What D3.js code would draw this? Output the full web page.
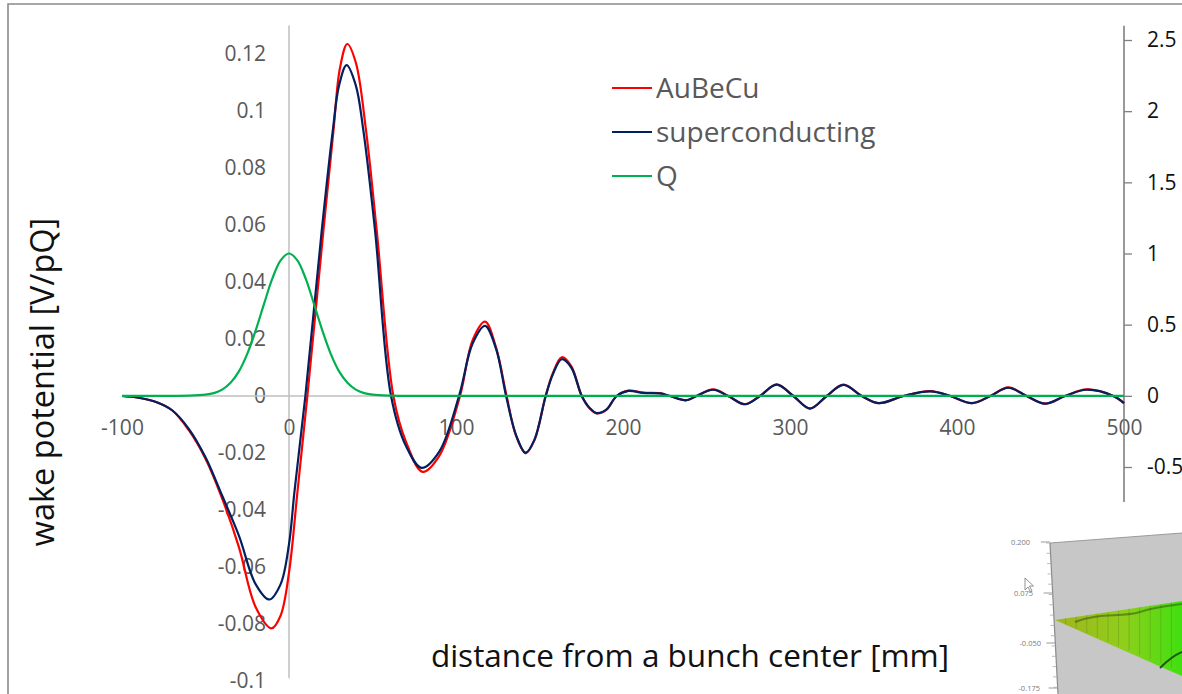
<!DOCTYPE html>
<html><head><meta charset="utf-8">
<script src="https://cdn.jsdelivr.net/npm/d3@7"></script>
<style>body{margin:0;background:#fff;} svg{display:block;font-family:"Open Sans",sans-serif;}</style>
</head><body><svg id="c" width="1182" height="694"></svg>
<script>
// ---- data ----
const xTicks = [-100, 0, 100, 200, 300, 400, 500];
const leftTicks = [-0.1, -0.08, -0.06, -0.04, -0.02, 0, 0.02, 0.04, 0.06, 0.08, 0.1, 0.12];
const rightTicks = [-0.5, 0, 0.5, 1, 1.5, 2, 2.5];
const seriesNames = ["AuBeCu", "superconducting", "Q"];
const seriesColors = ["#ff0000", "#002060", "#00b050"];

const aubecu = [[-100,0],[-90,-0.0006],[-80,-0.002],[-70,-0.005],[-60,-0.012],[-50,-0.022],[-40,-0.036],[-30,-0.053],[-20,-0.074],[-10.4,-0.0815],[-5,-0.077],[0,-0.062],[5,-0.034],[11,0],[20.6,0.058],[26.6,0.093],[30.5,0.115],[34.9,0.1235],[40,0.117],[46.1,0.0933],[52.5,0.0582],[62.5,0],[70,-0.016],[80,-0.0266],[90,-0.021],[102.4,0],[110,0.0197],[117.4,0.0261],[124,0.017],[130.3,0],[136,-0.014],[141.7,-0.0201],[147,-0.0155],[153.7,0],[158,0.008],[163.3,0.0136],[169,0.0105],[175.3,0],[180,-0.0043],[184.2,-0.0061],[190,-0.0049],[196.2,0],[203.2,0.0019],[212,0.0012],[222,0.001],[228,0],[238,-0.0015],[244,0],[254,0.0023],[263,0],[273,-0.0029],[282,0],[292,0.0041],[302,0],[312,-0.0044],[322,0],[332,0.004],[343,0],[353,-0.0025],[368,0],[384,0.0017],[396,0],[409,-0.0025],[420,0],[430.7,0.003],[441.7,0],[452.7,-0.0027],[464.7,0],[477.6,0.0023],[493.6,0],[500,-0.0025]];

const superconducting = [[-100,0],[-90,-0.0006],[-80,-0.002],[-70,-0.005],[-60,-0.0115],[-50,-0.0215],[-40,-0.035],[-30,-0.049],[-20,-0.066],[-11.8,-0.0714],[-5,-0.066],[0,-0.052],[3.2,-0.034],[9.8,0],[19.6,0.058],[26.2,0.093],[30,0.109],[34.5,0.1161],[40,0.109],[44.5,0.0933],[51.5,0.0582],[61.1,0],[70,-0.0175],[79.4,-0.0252],[90,-0.0195],[101.8,0],[110,0.0185],[117.4,0.0246],[124,0.0165],[130,0],[136,-0.0138],[141.7,-0.0199],[147,-0.0153],[153.7,0],[158,0.0076],[163.3,0.0129],[169,0.01],[175.3,0],[180,-0.0042],[184.2,-0.006],[190,-0.0048],[196.2,0],[203.2,0.0018],[212,0.0011],[222,0.0009],[228,0],[238,-0.0015],[244,0],[254,0.0022],[263,0],[273,-0.0029],[282,0],[292,0.004],[302,0],[312,-0.0044],[322,0],[332,0.0039],[343,0],[353,-0.0025],[368,0],[384,0.0016],[396,0],[409,-0.0025],[420,0],[430.7,0.0029],[441.7,0],[452.7,-0.0027],[464.7,0],[477.6,0.0022],[493.6,0],[500,-0.0025]];

const charge = [[-100,0],[-70,0],[-60,0.001],[-50,0.008],[-45,0.019],[-40,0.044],[-35,0.092],[-30,0.172],[-25,0.295],[-20,0.458],[-15,0.644],[-10,0.823],[-5,0.952],[0,1],[5,0.952],[10,0.823],[15,0.644],[20,0.458],[25,0.295],[30,0.172],[35,0.092],[40,0.044],[45,0.019],[50,0.008],[60,0.001],[70,0],[500,0]];

const insetTicks = ["0.200", "0.075", "-0.050", "-0.175"];

// ---- drawing ----
const svg = d3.select("#c");
const x = d3.scaleLinear().domain([-100, 500]).range([122, 1124]);
const yL = d3.scaleLinear().domain([-0.1, 0.12]).range([681, 54]);
const yR = d3.scaleLinear().domain([-0.5, 2.5]).range([467, 40]);

// outer frame
svg.append("path").attr("d", "M8,694V4H1182").attr("fill", "none").attr("stroke", "#8a8a8a").attr("stroke-width", 1.6);

// left value axis (crosses at x=0)
const gL = svg.append("g").attr("transform", `translate(${x(0)},0)`)
  .call(d3.axisLeft(yL).tickValues(leftTicks).tickSize(0).tickPadding(23).tickFormat(d => String(d)));
gL.select(".domain").remove();
gL.selectAll("text").attr("fill", "#595959").attr("font-size", 21).attr("font-family", "Open Sans");
svg.append("line").attr("x1", x(0)).attr("x2", x(0)).attr("y1", yL(0.13)).attr("y2", yL(-0.099))
  .attr("stroke", "#bfbfbf").attr("stroke-width", 1.5);

// x axis (at y=0)
const gX = svg.append("g").attr("transform", `translate(0,${yL(0)})`)
  .call(d3.axisBottom(x).tickValues(xTicks).tickSize(0).tickPadding(24).tickFormat(d => String(d)));
gX.select(".domain").remove();
gX.selectAll("text").attr("fill", "#595959").attr("font-size", 21).attr("font-family", "Open Sans");
svg.append("line").attr("x1", x(-100)).attr("x2", x(500)).attr("y1", yL(0)).attr("y2", yL(0))
  .attr("stroke", "#bfbfbf").attr("stroke-width", 1.5);

// right axis
const gR = svg.append("g").attr("transform", `translate(${x(500)},0)`)
  .call(d3.axisRight(yR).tickValues(rightTicks).tickSize(8).tickPadding(15).tickFormat(d => String(d)));
gR.select(".domain").remove();
gR.selectAll("line").attr("stroke", "#808080").attr("stroke-width", 1.3);
gR.selectAll("text").attr("fill", "#111").attr("font-size", 21).attr("font-family", "Open Sans");
svg.append("line").attr("x1", x(500)).attr("x2", x(500)).attr("y1", yR(2.6)).attr("y2", yR(-2))
  .attr("stroke", "#808080").attr("stroke-width", 1.6);

// series
const lineL = d3.line().x(d => x(d[0])).y(d => yL(d[1])).curve(d3.curveCatmullRom.alpha(0.5));
const lineR = d3.line().x(d => x(d[0])).y(d => yR(d[1])).curve(d3.curveCatmullRom.alpha(0.5));
svg.append("path").attr("d", lineL(aubecu)).attr("fill", "none").attr("stroke", seriesColors[0]).attr("stroke-width", 2.2);
svg.append("path").attr("d", lineL(superconducting)).attr("fill", "none").attr("stroke", seriesColors[1]).attr("stroke-width", 2.2);
svg.append("path").attr("d", lineR(charge)).attr("fill", "none").attr("stroke", seriesColors[2]).attr("stroke-width", 2.2);

// legend
const lg = svg.append("g");
seriesNames.forEach((n, i) => {
  const yy = 88 + i * 44;
  lg.append("line").attr("x1", 612).attr("x2", 652).attr("y1", yy).attr("y2", yy).attr("stroke", seriesColors[i]).attr("stroke-width", 2);
  lg.append("text").attr("x", 656).attr("y", yy).attr("dy", "0.36em").attr("fill", "#595959")
    .attr("font-size", 28).attr("font-family", "Open Sans").text(n);
});

// axis titles
svg.append("text").attr("transform", "translate(54,382) rotate(-90)").attr("text-anchor", "middle")
  .attr("font-size", 32.5).attr("fill", "#111").text("wake potential [V/pQ]");
svg.append("text").attr("x", 690).attr("y", 667).attr("text-anchor", "middle")
  .attr("font-size", 31.5).attr("fill", "#111").text("distance from a bunch center [mm]");

// ---- inset screenshot (bottom right) ----
const ins = svg.append("g");
ins.append("rect").attr("x", 985).attr("y", 502).attr("width", 197).attr("height", 192).attr("fill", "#fff");
const defs = svg.append("defs");
const gr = defs.append("linearGradient").attr("id", "surf").attr("x1", "0").attr("x2", "1").attr("y1", "0").attr("y2", "0");
gr.append("stop").attr("offset", "0").attr("stop-color", "#9fb51e");
gr.append("stop").attr("offset", "0.55").attr("stop-color", "#8fcf1c");
gr.append("stop").attr("offset", "1").attr("stop-color", "#3fe010");
ins.append("polygon").attr("points", "1050,543 1182,533 1182,694 1058,694").attr("fill", "#c7c7c7");
ins.append("polyline").attr("points", "1050,543 1182,533").attr("fill", "none").attr("stroke", "#9a9a9a").attr("stroke-width", 1);
ins.append("line").attr("x1", 1050).attr("y1", 543).attr("x2", 1058).attr("y2", 694).attr("stroke", "#8a8a8a").attr("stroke-width", 1.2);
ins.append("polygon").attr("points", "1055,620 1182,601 1182,676 1168,670").attr("fill", "url(#surf)");
// mesh hints
for (let k = 1; k < 12; k++) {
  const t = k / 12;
  ins.append("line").attr("x1", 1055 + t * 127).attr("y1", 620 - t * 19)
    .attr("x2", 1055 + t * 127).attr("y2", 620 + t * 52).attr("stroke", "#3a4a10").attr("stroke-opacity", 0.25).attr("stroke-width", 0.8);
}
ins.append("path").attr("d", "M1075,622 C1100,612 1120,618 1140,612 S1170,606 1182,604").attr("fill", "none").attr("stroke", "#2c3a0c").attr("stroke-opacity", 0.45).attr("stroke-width", 2);
ins.append("path").attr("d", "M1160,668 C1168,660 1175,655 1182,652").attr("fill", "none").attr("stroke", "#1e5a0a").attr("stroke-width", 2);
// inset ticks
const insY = [542, 593, 643, 688];
const insX = [1030, 1033, 1041, 1040];
insetTicks.forEach((t, i) => {
  ins.append("text").attr("x", insX[i]).attr("y", insY[i]).attr("dy", "0.35em").attr("text-anchor", "end")
    .attr("font-size", 7.5).attr("fill", "#7a7a7a").attr("font-family", "Open Sans").text(t);
  const ax = 1050 + (insY[i] - 543) / 151 * 8;
  ins.append("line").attr("x1", ax - 9).attr("x2", ax).attr("y1", insY[i]).attr("y2", insY[i]).attr("stroke", "#999").attr("stroke-width", 1);
});
for (let k = 0; k < 15; k++) {
  const yy = 543 + k * 10.3;
  const ax = 1050 + (yy - 543) / 151 * 8;
  ins.append("line").attr("x1", ax - 4).attr("x2", ax).attr("y1", yy).attr("y2", yy).attr("stroke", "#aaa").attr("stroke-width", 0.8);
}
// cursor
ins.append("path").attr("d", "M1025,578 L1025,590 L1028,587 L1030.5,592 L1032,591 L1029.5,586 L1033.5,586 Z")
  .attr("fill", "#fff").attr("stroke", "#777").attr("stroke-width", 0.8);
</script></body></html>
